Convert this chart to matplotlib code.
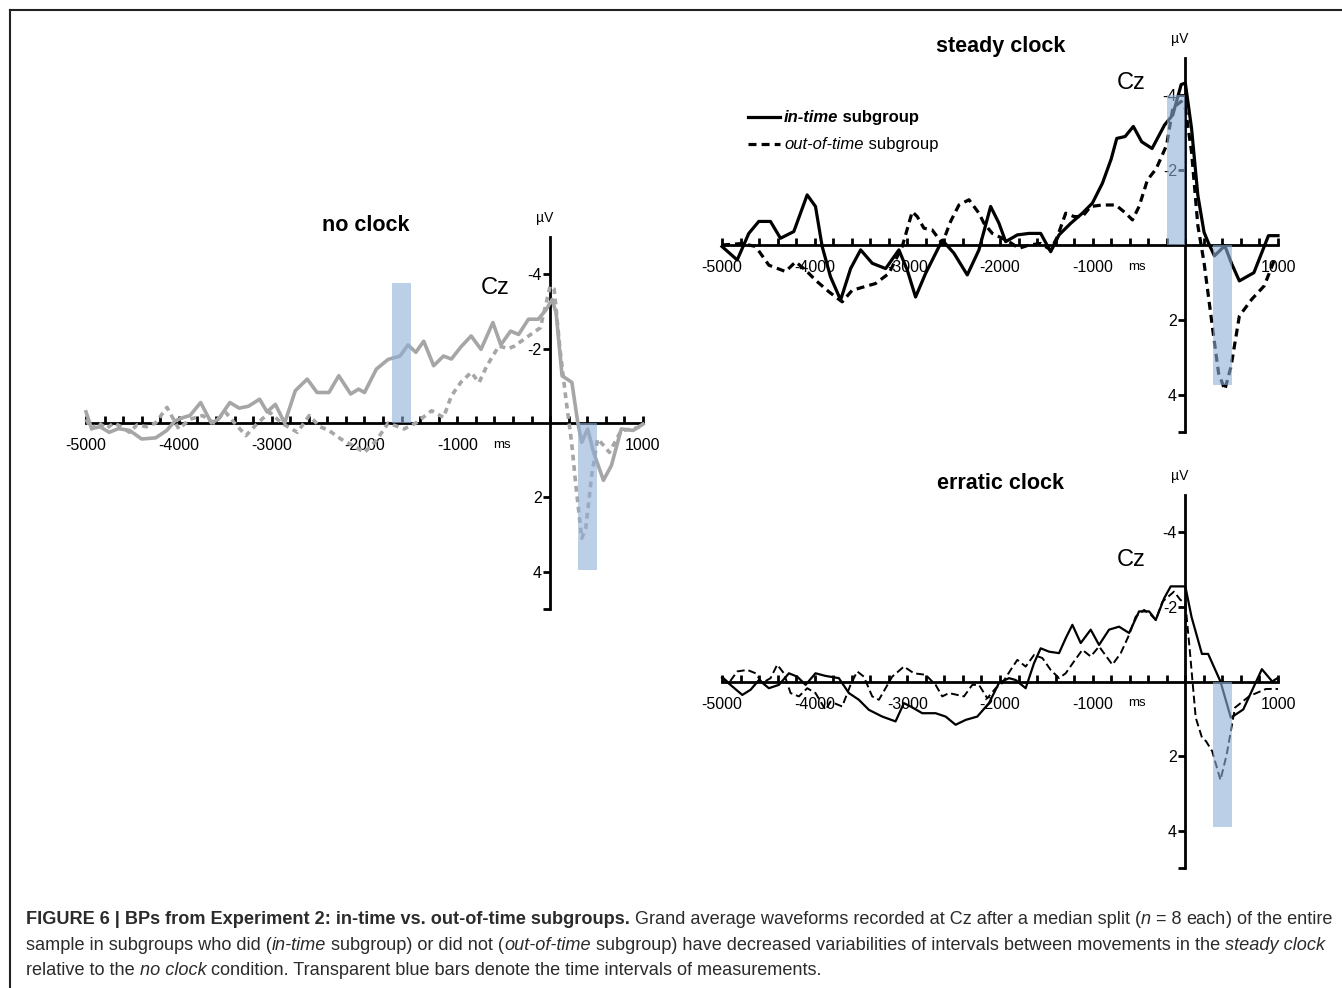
import numpy as np
import matplotlib
matplotlib.use('Agg')
import matplotlib.pyplot as plt
from matplotlib.transforms import IdentityTransform
from matplotlib.lines import Line2D

plt.rcParams['font.family'] = ['Liberation Sans', 'DejaVu Sans']

# ---- data (ms, microvolts; negative is drawn upward) ----
nc_in_t = [-5000, -4940, -4850, -4750, -4650, -4530, -4400, -4250, -4130, -4040, -3950, -3880,
           -3765, -3650, -3575, -3450, -3350, -3250, -3130, -3050, -2960, -2860, -2745, -2617,
           -2511, -2383, -2277, -2149, -2064, -2000, -1872, -1745, -1617, -1532, -1447, -1362,
           -1255, -1149, -1064, -960, -851, -745, -617, -532, -426, -340, -234, -128, -43, 21,
           64, 128, 200, 234, 298, 340, 404, 468, 574, 660, 766, 894, 1000]
nc_in_v = [-0.3, 0.15, 0.1, 0.25, 0.15, 0.2, 0.43, 0.4, 0.2, -0.06, -0.15, -0.2,
           -0.55, 0.0, -0.1, -0.55, -0.4, -0.45, -0.64, -0.3, -0.5, 0.0, -0.87, -1.18,
           -0.82, -0.82, -1.27, -0.78, -0.91, -0.82, -1.45, -1.71, -1.8, -2.1, -1.9, -2.2,
           -1.54, -1.8, -1.72, -2.05, -2.34, -1.98, -2.7, -2.1, -2.47, -2.38, -2.79, -2.79, -3.05, -3.32,
           -2.96, -1.27, -1.15, -1.09, 0.0, 0.52, 0.16, 0.79, 1.54, 1.14, 0.16, 0.2, 0.03]
nc_out_t = [-5000, -4940, -4860, -4780, -4700, -4620, -4532, -4450, -4350, -4250, -4128, -4000,
            -3880, -3745, -3620, -3500, -3400, -3277, -3150, -3021, -2894, -2723, -2596, -2480,
            -2383, -2255, -2130, -2000, -1872, -1745, -1574, -1447, -1277, -1149, -1064, -960,
            -851, -766, -681, -553, -450, -383, -255, -106, 0, 43, 106, 170, 230, 277, 340, 383,
            447, 511, 575, 638, 766, 894, 1000]
nc_out_v = [-0.1, 0.16, 0.0, 0.15, 0.0, 0.1, 0.25, 0.05, 0.1, 0.0, -0.42, 0.16,
            -0.1, -0.2, 0.0, -0.3, 0.0, 0.34, 0.0, -0.29, 0.0, 0.25, -0.2, 0.1,
            0.2, 0.43, 0.6, 0.79, 0.47, 0.0, 0.16, 0.0, -0.33, -0.15, -0.73, -1.1,
            -1.36, -1.09, -1.54, -2.07, -2.0, -2.07, -2.3, -2.56, -3.68, -3.6, -1.98, -0.64, 0.5, 1.68, 3.1, 2.84,
            1.41, 0.43, 0.6, 0.79, 0.2, 0.16, 0.07]

st_in_t = [-5000, -4836, -4711, -4603, -4477, -4369, -4225, -4081, -3991, -3919, -3829, -3720,
           -3612, -3504, -3378, -3234, -3091, -3001, -2911, -2803, -2623, -2497, -2353, -2227,
           -2101, -2011, -1939, -1813, -1687, -1561, -1453, -1363, -1237, -1111, -1003, -895,
           -800, -740, -650, -561, -471, -359, -224, -135, -45, 0, 67, 135, 202, 250, 314, 426,
           500, 583, 740, 897, 1000]
st_in_v = [0.04, 0.4, -0.31, -0.63, -0.63, -0.18, -0.36, -1.34, -1.03, 0.04, 0.85, 1.47,
           0.63, 0.13, 0.49, 0.63, 0.13, 0.67, 1.39, 0.76, -0.13, 0.22, 0.8, 0.13,
           -1.03, -0.58, -0.09, -0.27, -0.31, -0.31, 0.18, -0.27, -0.58, -0.85, -1.12, -1.65,
           -2.3, -2.85, -2.9, -3.17, -2.76, -2.58, -3.21, -3.48, -4.29, -4.33, -3.12, -1.33, -0.34, -0.05, 0.29, 0.02,
           0.5, 0.96, 0.74, -0.25, -0.25]
st_out_t = [-5000, -4781, -4637, -4494, -4314, -4206, -4098, -3991, -3847, -3703, -3595, -3469,
            -3343, -3199, -3055, -2947, -2893, -2821, -2731, -2623, -2533, -2443, -2335, -2227,
            -2173, -2083, -1975, -1903, -1795, -1687, -1561, -1453, -1381, -1291, -1201, -1111,
            -1021, -895, -751, -643, -571, -499, -409, -314, -202, -135, -45, 0, 67, 135, 202,
            291, 359, 426, 493, 583, 717, 852, 964]
st_out_v = [0.0, -0.04, 0.04, 0.54, 0.71, 0.45, 0.67, 0.94, 1.25, 1.52, 1.21, 1.12,
            1.03, 0.76, 0.04, -0.89, -0.76, -0.45, -0.4, -0.04, -0.63, -1.07, -1.21, -0.85,
            -0.58, -0.31, -0.18, -0.09, 0.09, 0.0, -0.04, 0.13, -0.22, -0.85, -0.76, -0.76,
            -1.03, -1.07, -1.07, -0.85, -0.67, -1.03, -1.74, -2.04, -2.67, -3.66, -3.84, -3.66, -2.49, -0.52, 0.47,
            2.17, 3.43, 3.87, 3.25, 1.9, 1.45, 1.09, 0.38]

er_in_t = [-5000, -4890, -4781, -4691, -4601, -4494, -4386, -4278, -4188, -4098, -3991, -3883,
           -3739, -3631, -3523, -3415, -3271, -3127, -3037, -2965, -2839, -2695, -2587, -2479,
           -2371, -2245, -2119, -2011, -1903, -1831, -1723, -1633, -1561, -1471, -1363, -1291,
           -1219, -1129, -1021, -931, -823, -715, -607, -499, -391, -319, -229, -158, 0, 67,
           179, 246, 379, 491, 625, 826, 938, 1000]
er_in_v = [-0.1, 0.13, 0.36, 0.22, -0.04, 0.18, 0.09, -0.22, -0.13, 0.09, -0.22, -0.15,
           -0.09, 0.31, 0.49, 0.76, 0.94, 1.07, 0.58, 0.67, 0.85, 0.85, 0.94, 1.16,
           1.03, 0.94, 0.58, 0.04, -0.09, -0.04, 0.18, -0.49, -0.89, -0.8, -0.76, -1.16,
           -1.52, -1.03, -1.39, -0.98, -1.39, -1.47, -1.3, -1.88, -1.88, -1.65, -2.23, -2.55, -2.55, -1.73,
           -0.74, -0.74, 0.0, 0.97, 0.75, -0.33, 0.0, -0.1]
er_out_t = [-5000, -4926, -4836, -4727, -4637, -4566, -4476, -4404, -4332, -4260, -4170, -4080,
            -3991, -3883, -3829, -3703, -3613, -3541, -3469, -3379, -3307, -3235, -3163, -3037,
            -2929, -2803, -2695, -2623, -2551, -2461, -2389, -2299, -2227, -2137, -2047, -1975,
            -1885, -1813, -1723, -1633, -1543, -1453, -1363, -1291, -1201, -1111, -1021, -931,
            -787, -697, -607, -535, -445, -373, -319, -247, -122, -54, 0, 45, 112, 179, 223,
            290, 379, 446, 536, 692, 871, 1000]
er_out_v = [-0.13, 0.04, -0.27, -0.31, -0.22, 0.04, -0.09, -0.45, -0.22, 0.31, 0.4, 0.18,
            0.31, 0.76, 0.54, 0.67, 0.09, -0.27, -0.13, 0.4, 0.49, 0.18, -0.13, -0.4,
            -0.22, -0.18, 0.09, 0.4, 0.31, 0.36, 0.4, 0.09, 0.09, 0.45, 0.18, 0.04,
            -0.31, -0.58, -0.4, -0.71, -0.63, -0.31, -0.09, -0.22, -0.54, -0.85, -0.67, -0.94,
            -0.45, -0.76, -1.25, -1.74, -1.92, -1.79, -1.65, -2.14, -2.41, -2.19, -2.1, -0.92, 0.97, 1.5, 1.6,
            1.87, 2.64, 1.96, 0.7, 0.39, 0.2, 0.2]

# measurement windows: (start ms, end ms, amplitude)
nc_bars = [(-1700, -1500, -3.75), (300, 500, 3.95)]
st_bars = [(-200, 0, -4.0), (300, 500, 3.75)]
er_bars = [(300, 500, 3.9)]

x_labels = ['-5000', '-4000', '-3000', '-2000', '-1000', '', '1000']
y_labels = ['-4', '-2', '2', '4']

W, H = 1342, 988
fig = plt.figure(figsize=(W / 100, H / 100), dpi=100)
renderer = fig.canvas.get_renderer()

GRAY = '#a6a6a6'
BAR = '#8fb0d8'


def px_axes(x0, x1, ytop, ybot):
    return fig.add_axes([x0 / W, 1 - ybot / H, (x1 - x0) / W, (ybot - ytop) / H])


def panel(ax, title, cz_y, curves, bars):
    ax.set_xlim(-5000, 1000)
    ax.set_ylim(5, -5)
    ax.patch.set_visible(False)
    for s in ['top', 'right']:
        ax.spines[s].set_visible(False)
    for s in ['left', 'bottom']:
        ax.spines[s].set_position(('data', 0))
        ax.spines[s].set_linewidth(2)
    ax.set_xticks(range(-5000, 1001, 1000))
    ax.set_xticklabels(x_labels)
    ax.set_xticks(np.arange(-5000, 1001, 200), minor=True)
    ax.tick_params(axis='x', which='both', direction='in', length=5, width=2, pad=11, labelsize=11.5)
    ax.set_yticks([-4, -2, 2, 4])
    ax.set_yticklabels(y_labels)
    ax.set_yticks([5], minor=True)
    ax.tick_params(axis='y', which='both', direction='out', length=5, width=2, pad=1, labelsize=11.5)
    for t, v, kw in curves:
        ax.plot(t, v, clip_on=False, zorder=3, solid_joinstyle='round',
                dash_joinstyle='round', **kw)
    for t0, t1, a in bars:
        ax.bar(t0, a, width=t1 - t0, bottom=0, align='edge', color=BAR, alpha=0.6,
               linewidth=0, zorder=4)
    ax.text(-1990, -5.3, title, fontsize=15.5, fontweight='bold', ha='center', va='center')
    ax.text(-590, cz_y, 'Cz', fontsize=17, ha='center', va='center')
    ax.text(-60, -5.52, 'µV', fontsize=10, ha='center', va='center', clip_on=False)
    ax.text(-520, 0.58, 'ms', fontsize=9.5, ha='center', va='center')


ax1 = px_axes(86, 643, 237, 609)
panel(ax1, 'no clock', -3.62,
      [(nc_in_t, nc_in_v, dict(color=GRAY, lw=2.6)),
       (nc_out_t, nc_out_v, dict(color=GRAY, lw=2.6, dashes=(1.6, 1.3)))],
      nc_bars)

ax2 = px_axes(722, 1278, 58, 432)
panel(ax2, 'steady clock', -4.34,
      [(st_in_t, st_in_v, dict(color='black', lw=2.3)),
       (st_out_t, st_out_v, dict(color='black', lw=2.3, dashes=(2.5, 1.6)))],
      st_bars)

ax3 = px_axes(722, 1278, 495, 868)
panel(ax3, 'erratic clock', -3.27,
      [(er_in_t, er_in_v, dict(color='black', lw=1.6)),
       (er_out_t, er_out_v, dict(color='black', lw=1.4, dashes=(4, 2)))],
      er_bars)


def text_width(s, **kw):
    a = fig.text(0, 0, '|' + s + '|', transform=IdentityTransform(), **kw)
    b = fig.text(0, 0, '||', transform=IdentityTransform(), **kw)
    w = a.get_window_extent(renderer).width - b.get_window_extent(renderer).width
    a.remove()
    b.remove()
    return w


def runs(x, y, pieces, size, color):
    for s, st in pieces:
        kw = dict(fontsize=size, color=color,
                  fontweight='bold' if 'b' in st else 'normal',
                  fontstyle='italic' if 'i' in st else 'normal')
        fig.text(x, y, s, transform=IdentityTransform(), va='baseline', ha='left', **kw)
        x += text_width(s, **kw)


# legend (steady clock panel)
ax2.add_line(Line2D([748 / W, 780 / W], [1 - 117 / H] * 2, transform=fig.transFigure,
                    color='black', lw=2.3))
ax2.add_line(Line2D([748 / W, 780 / W], [1 - 144 / H] * 2, transform=fig.transFigure,
                    color='black', lw=2.3, dashes=(2.5, 1.6)))
runs(784, H - 122, [('in-time', 'bi'), (' subgroup', 'b')], 12, 'black')
runs(784, H - 149, [('out-of-time', 'i'), (' subgroup', 'r')], 12, 'black')

# caption
cap1 = [('FIGURE 6 | BPs from Experiment 2: in-time vs. out-of-time subgroups.', 'b'),
        (' Grand average waveforms recorded at Cz after a median split (', 'r'),
        ('n', 'i'), (' = 8 ', 'r'), ('each', 'r'), (') of the entire', 'r')]
cap2 = [('sample in subgroups who did (', 'r'), ('in-time', 'i'),
        (' subgroup) or did not (', 'r'), ('out-of-time', 'i'),
        (' subgroup) have decreased variabilities of intervals between movements in the ', 'r'),
        ('steady clock', 'i')]
cap3 = [('relative to the ', 'r'), ('no clock', 'i'),
        (' condition. Transparent blue bars denote the time intervals of measurements.', 'r')]

w12 = sum(text_width(s, fontsize=12, fontweight='bold' if 'b' in st else 'normal',
                     fontstyle='italic' if 'i' in st else 'normal') for s, st in cap1)
cap_size = 12 * 1310 / w12
runs(26, H - 924, cap1, cap_size, '#2b2b2b')
runs(26, H - 950, cap2, cap_size, '#2b2b2b')
runs(26, H - 975, cap3, cap_size, '#2b2b2b')

# frame around figure (only top and left edges are inside the image)
fig.add_artist(Line2D([9.5 / W, 9.5 / W], [0, 1 - 10.5 / H], transform=fig.transFigure,
                      color='#222222', lw=1.5))
fig.add_artist(Line2D([9.5 / W, 1], [1 - 10.5 / H] * 2, transform=fig.transFigure,
                      color='#222222', lw=1.5))

fig.savefig('out.png', dpi=100)
